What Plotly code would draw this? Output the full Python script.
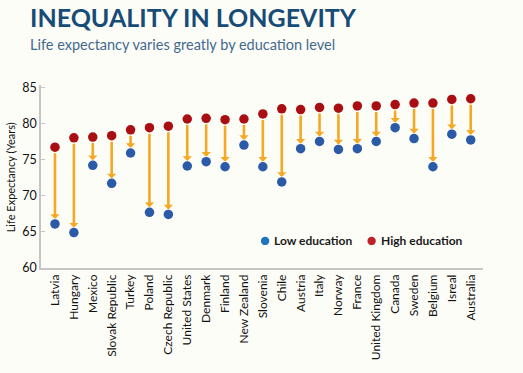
import plotly.graph_objects as go

countries = ["Latvia", "Hungary", "Mexico", "Slovak Republic", "Turkey", "Poland",
             "Czech Republic", "United States", "Denmark", "Finland", "New Zealand",
             "Slovenia", "Chile", "Austria", "Italy", "Norway", "France",
             "United Kingdom", "Canada", "Sweden", "Belgium", "Isreal", "Australia"]
low_edu = [66.1, 64.9, 74.2, 71.7, 75.9, 67.7, 67.4, 74.1, 74.7, 74.0, 77.0,
           74.0, 71.9, 76.5, 77.5, 76.4, 76.5, 77.5, 79.4, 77.9, 74.0, 78.5, 77.7]
high_edu = [76.7, 78.0, 78.1, 78.3, 79.1, 79.4, 79.6, 80.6, 80.7, 80.5, 80.6,
            81.3, 82.0, 81.9, 82.2, 82.1, 82.4, 82.4, 82.6, 82.8, 82.8, 83.3, 83.4]
y_ticks = [60, 65, 70, 75, 80, 85]

BG = "#FDFDF8"
RED = "#A90E13"
BLUE = "#2B5AA7"
ORANGE = "#F6A723"
FONT = "Lato"

idx = list(range(len(countries)))

fig = go.Figure()
fig.add_trace(go.Scatter(x=idx, y=low_edu, mode="markers", name="Low education",
                         marker=dict(size=9.5, color=BLUE), showlegend=False))
fig.add_trace(go.Scatter(x=idx, y=high_edu, mode="markers", name="High education",
                         marker=dict(size=9.5, color=RED), showlegend=False))

annotations = []
for i, lo, hi in zip(idx, low_edu, high_edu):
    annotations.append(dict(
        x=i, y=lo, ax=i, ay=hi, xref="x", yref="y", axref="x", ayref="y",
        text="", showarrow=True, arrowhead=1, arrowsize=0.6, arrowwidth=2.6,
        arrowcolor=ORANGE, standoff=5, startstandoff=4.5))

# titles
annotations.append(dict(xref="paper", yref="paper", x=-0.029, y=1.372,
                        xanchor="left", yanchor="middle", showarrow=False,
                        text="<b>INEQUALITY IN LONGEVITY</b>",
                        font=dict(family=FONT, size=25, color="#174C77")))
annotations.append(dict(xref="paper", yref="paper", x=-0.029, y=1.222,
                        xanchor="left", yanchor="middle", showarrow=False,
                        text="Life expectancy varies greatly by education level",
                        font=dict(family=FONT, size=14.5, color="#44698E")))
annotations.append(dict(xref="paper", yref="paper", x=-0.069, y=0.493,
                        xanchor="center", yanchor="middle", showarrow=False,
                        textangle=-90, text="Life Expectancy (Years)",
                        font=dict(family=FONT, size=11, color="#111111")))
# legend
annotations.append(dict(xref="paper", yref="paper", x=0.523, y=0.148,
                        xanchor="left", yanchor="middle", showarrow=False,
                        text="<b>Low education</b>",
                        font=dict(family=FONT, size=12, color="#1A1A1A")))
annotations.append(dict(xref="paper", yref="paper", x=0.765, y=0.148,
                        xanchor="left", yanchor="middle", showarrow=False,
                        text="<b>High education</b>",
                        font=dict(family=FONT, size=12, color="#1A1A1A")))

shapes = [
    dict(type="circle", xref="paper", yref="paper", xsizemode="pixel", ysizemode="pixel",
         xanchor=0.507, yanchor=0.148, x0=-4.2, x1=4.2, y0=-4.2, y1=4.2,
         fillcolor="#1F74BD", line=dict(width=0)),
    dict(type="circle", xref="paper", yref="paper", xsizemode="pixel", ysizemode="pixel",
         xanchor=0.748, yanchor=0.148, x0=-4.2, x1=4.2, y0=-4.2, y1=4.2,
         fillcolor="#BF2128", line=dict(width=0)),
]

fig.update_layout(
    width=523, height=373,
    margin=dict(l=41, r=40, t=85, b=104.5, pad=0),
    paper_bgcolor=BG, plot_bgcolor=BG,
    font=dict(family=FONT, color="#111111"),
    annotations=annotations, shapes=shapes,
    xaxis=dict(range=[-0.74, 22.65], tickmode="array", tickvals=idx, ticktext=countries,
               tickangle=-90, showgrid=False, zeroline=False, showline=True,
               linecolor="#C6C6C6", linewidth=1.5, ticks="",
               tickfont=dict(family=FONT, size=12, color="#111111")),
    yaxis=dict(range=[60, 85.3], tickmode="array", tickvals=y_ticks,
               showgrid=False, zeroline=False, showline=True,
               linecolor="#C6C6C6", linewidth=1.5, ticks="inside", ticklen=4,
               tickcolor="#C6C6C6", tickwidth=1,
               tickfont=dict(family=FONT, size=12.5, color="#111111")),
)

fig.write_html(
    "out.html",
    config={"displayModeBar": False},
    post_script="document.body.style.margin='0';document.body.style.background='" + BG + "';",
)
